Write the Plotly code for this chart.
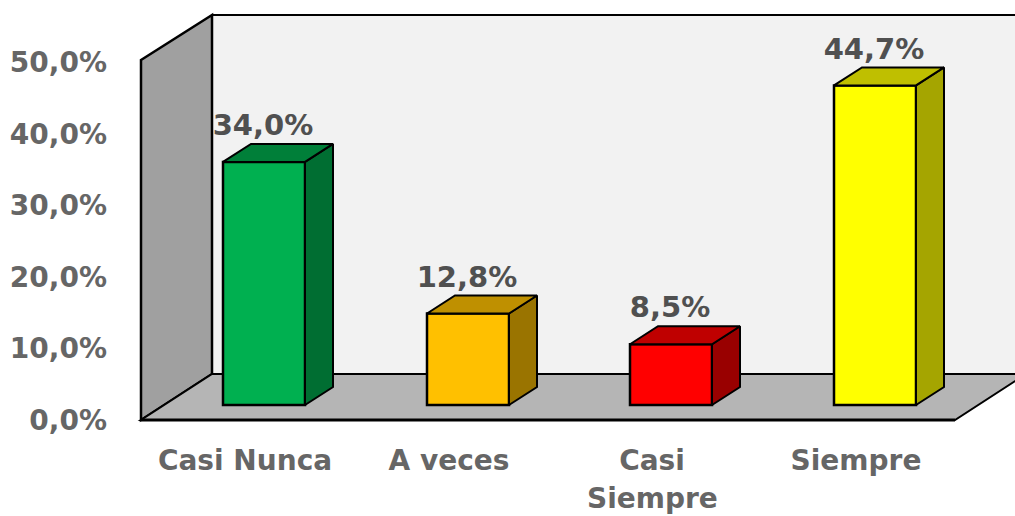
"""
3D-style column chart drawn on a flat Plotly axis.
Front faces are real bars, side and top faces are filled scatter traces.
"""

import plotly.graph_objects as go

categories = ['Casi Nunca', 'A veces', 'Casi Siempre', 'Siempre']
values = [34.0, 12.8, 8.5, 44.7]
y_ticks = [0, 10, 20, 30, 40, 50]

front_colors = ['#00B050', '#FFC000', '#FF0000', '#FFFF00']
side_colors = ['#006E32', '#9A7400', '#990000', '#A5A500']
top_colors = ['#007F39', '#BF9000', '#BF0000', '#BFBF00']

W, H = 1015, 516
FLOOR_PX = 420      # page row of value 0 on the front edge
PX_PER_PCT = 7.15
LABEL_COLOR = '#505050'
AXIS_COLOR = '#666666'
FONT = 'DejaVu Sans'


def val(px):
    """Page row to axis value."""
    return (FLOOR_PX - px) / PX_PER_PCT


def pct(v):
    return f'{v:.1f}%'.replace('.', ',')


BAR_POS = [264, 468, 671, 875]
BAR_W = 82
BASE = val(405)
DEPTH_X = 28
DEPTH_Y = 18 / PX_PER_PCT


def face(xs, ys, color):
    return go.Scatter(
        x=xs, y=ys, mode='lines', fill='toself', fillcolor=color,
        line=dict(color='black', width=2), hoverinfo='skip', showlegend=False
    )


def poly(points, color, width=2):
    path = 'M ' + ' L '.join(f'{x},{val(y)}' for x, y in points) + ' Z'
    return dict(type='path', path=path, fillcolor=color, layer='below',
                line=dict(color='black', width=width))


fig = go.Figure()

fig.add_trace(go.Bar(
    x=BAR_POS,
    y=values,
    base=BASE,
    width=BAR_W,
    marker=dict(color=front_colors, line=dict(color='black', width=2.5)),
    showlegend=False
))

for i, v in enumerate(values):
    left = BAR_POS[i] - BAR_W / 2
    right = BAR_POS[i] + BAR_W / 2
    top = BASE + v
    # side face
    fig.add_trace(face(
        [right, right + DEPTH_X, right + DEPTH_X, right, right],
        [BASE, BASE + DEPTH_Y, top + DEPTH_Y, top, BASE],
        side_colors[i]
    ))
    # top face
    fig.add_trace(face(
        [left, left + DEPTH_X, right + DEPTH_X, right, left],
        [top, top + DEPTH_Y, top + DEPTH_Y, top, top],
        top_colors[i]
    ))

fig.add_trace(go.Scatter(
    x=[p - 1 for p in BAR_POS],
    y=[BASE + v + DEPTH_Y + 16 / PX_PER_PCT for v in values],
    mode='text',
    text=[pct(v) for v in values],
    textposition='middle center',
    textfont=dict(family=FONT, size=29, color=LABEL_COLOR, weight='bold'),
    cliponaxis=False,
    showlegend=False
))

# walls and floor
shapes = [
    poly([(212, 15), (1040, 15), (1040, 374), (212, 374)], '#F2F2F2'),
    poly([(141, 60), (212, 15), (212, 374), (141, 420)], '#A0A0A0', 2.5),
    poly([(141, 420), (955, 420), (1026, 374), (212, 374)], '#B5B5B5', 2),
    dict(type='line', x0=141, x1=955, y0=val(420), y1=val(420), layer='below',
         line=dict(color='black', width=3)),
]

# second line of the wrapped category, a tick label cannot space it this far apart
wrapped = [c.split(' ') if c == 'Casi Siempre' else [c] for c in categories]

annotations = [
    dict(x=BAR_POS[i] - 19, y=val(498), text=f'<b>{w[1]}</b>', showarrow=False,
         font=dict(family=FONT, size=28, color=AXIS_COLOR))
    for i, w in enumerate(wrapped) if len(w) > 1
]

fig.update_layout(
    width=W,
    height=H,
    margin=dict(l=0, r=0, t=0, b=0),
    paper_bgcolor='white',
    plot_bgcolor='white',
    shapes=shapes,
    annotations=annotations,
    showlegend=False,
    font=dict(family=FONT, color=AXIS_COLOR),
    xaxis=dict(
        range=[0, W],
        tickmode='array',
        tickvals=[p - 19 for p in BAR_POS],
        ticktext=[f'<b>{w[0]}</b>' for w in wrapped],
        tickfont=dict(family=FONT, size=28, color=AXIS_COLOR),
        anchor='free',
        position=1 - 441 / H,
        showgrid=False,
        zeroline=False,
        showline=False,
        ticks=''
    ),
    yaxis=dict(
        range=[val(H), val(0)],
        tickmode='array',
        tickvals=y_ticks,
        ticktext=[f'<b>{pct(t)}</b>' for t in y_ticks],
        tickfont=dict(family=FONT, size=28, color=AXIS_COLOR),
        anchor='free',
        position=107 / W,
        showgrid=False,
        zeroline=False,
        showline=False,
        ticks=''
    )
)

fig.write_html(
    "out.html",
    config=dict(displayModeBar=False),
    post_script="document.body.style.margin='0';"
)
